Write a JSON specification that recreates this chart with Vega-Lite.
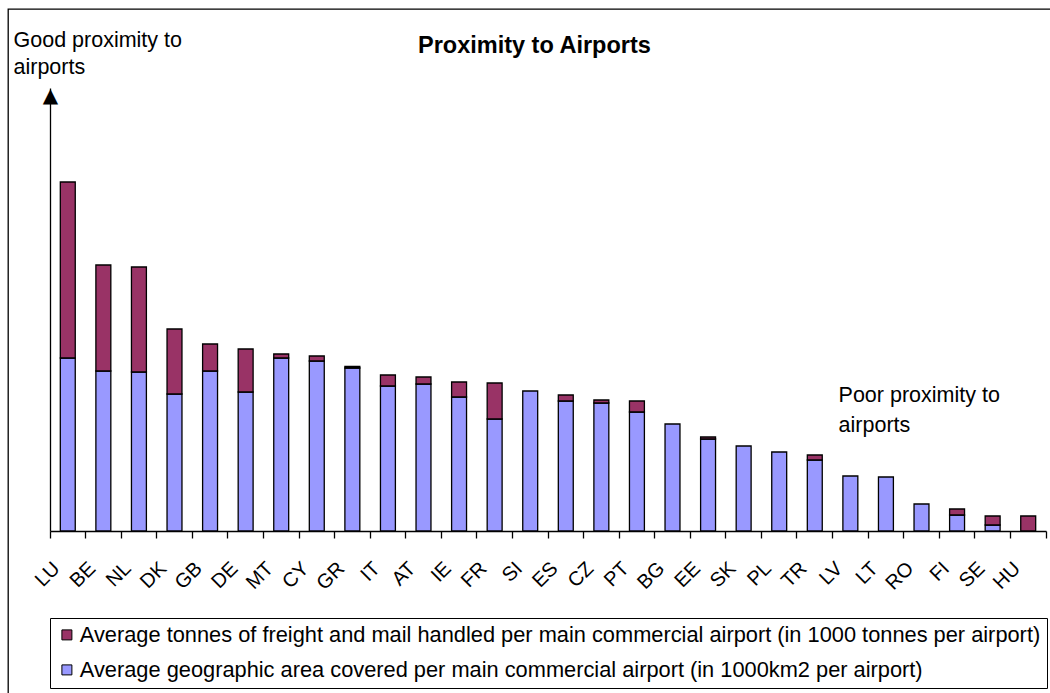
{
  "$schema": "https://vega.github.io/schema/vega-lite/v6.json",
  "width": 1046,
  "height": 688,
  "autosize": {"type": "none"},
  "padding": {"left": 8, "top": 9, "right": 0, "bottom": 0},
  "background": "white",
  "config": {
    "font": "Liberation Sans",
    "view": {"stroke": "black", "strokeWidth": 1.3},
    "axis": {"grid": false}
  },
  "title": {
    "text": "Proximity to Airports",
    "font": "Liberation Sans",
    "fontSize": 23.5,
    "fontWeight": "bold",
    "color": "black",
    "anchor": "start",
    "frame": "group",
    "offset": 0,
    "dx": 410,
    "dy": 67,
    "baseline": "alphabetic"
  },
  "layer": [
    {
      "data": {
        "values": [
          {"country": "LU", "series": "Average geographic area covered per main commercial airport (in 1000km2 per airport)", "value": 173},
          {"country": "LU", "series": "Average tonnes of freight and mail handled per main commercial airport (in 1000 tonnes per airport)", "value": 176},
          {"country": "BE", "series": "Average geographic area covered per main commercial airport (in 1000km2 per airport)", "value": 160},
          {"country": "BE", "series": "Average tonnes of freight and mail handled per main commercial airport (in 1000 tonnes per airport)", "value": 106},
          {"country": "NL", "series": "Average geographic area covered per main commercial airport (in 1000km2 per airport)", "value": 159},
          {"country": "NL", "series": "Average tonnes of freight and mail handled per main commercial airport (in 1000 tonnes per airport)", "value": 105},
          {"country": "DK", "series": "Average geographic area covered per main commercial airport (in 1000km2 per airport)", "value": 137},
          {"country": "DK", "series": "Average tonnes of freight and mail handled per main commercial airport (in 1000 tonnes per airport)", "value": 65},
          {"country": "GB", "series": "Average geographic area covered per main commercial airport (in 1000km2 per airport)", "value": 160},
          {"country": "GB", "series": "Average tonnes of freight and mail handled per main commercial airport (in 1000 tonnes per airport)", "value": 27},
          {"country": "DE", "series": "Average geographic area covered per main commercial airport (in 1000km2 per airport)", "value": 139},
          {"country": "DE", "series": "Average tonnes of freight and mail handled per main commercial airport (in 1000 tonnes per airport)", "value": 43},
          {"country": "MT", "series": "Average geographic area covered per main commercial airport (in 1000km2 per airport)", "value": 173},
          {"country": "MT", "series": "Average tonnes of freight and mail handled per main commercial airport (in 1000 tonnes per airport)", "value": 4},
          {"country": "CY", "series": "Average geographic area covered per main commercial airport (in 1000km2 per airport)", "value": 170},
          {"country": "CY", "series": "Average tonnes of freight and mail handled per main commercial airport (in 1000 tonnes per airport)", "value": 5},
          {"country": "GR", "series": "Average geographic area covered per main commercial airport (in 1000km2 per airport)", "value": 163},
          {"country": "GR", "series": "Average tonnes of freight and mail handled per main commercial airport (in 1000 tonnes per airport)", "value": 1.5},
          {"country": "IT", "series": "Average geographic area covered per main commercial airport (in 1000km2 per airport)", "value": 145},
          {"country": "IT", "series": "Average tonnes of freight and mail handled per main commercial airport (in 1000 tonnes per airport)", "value": 11},
          {"country": "AT", "series": "Average geographic area covered per main commercial airport (in 1000km2 per airport)", "value": 147},
          {"country": "AT", "series": "Average tonnes of freight and mail handled per main commercial airport (in 1000 tonnes per airport)", "value": 7},
          {"country": "IE", "series": "Average geographic area covered per main commercial airport (in 1000km2 per airport)", "value": 134},
          {"country": "IE", "series": "Average tonnes of freight and mail handled per main commercial airport (in 1000 tonnes per airport)", "value": 15},
          {"country": "FR", "series": "Average geographic area covered per main commercial airport (in 1000km2 per airport)", "value": 112},
          {"country": "FR", "series": "Average tonnes of freight and mail handled per main commercial airport (in 1000 tonnes per airport)", "value": 36},
          {"country": "SI", "series": "Average geographic area covered per main commercial airport (in 1000km2 per airport)", "value": 140},
          {"country": "ES", "series": "Average geographic area covered per main commercial airport (in 1000km2 per airport)", "value": 130},
          {"country": "ES", "series": "Average tonnes of freight and mail handled per main commercial airport (in 1000 tonnes per airport)", "value": 6},
          {"country": "CZ", "series": "Average geographic area covered per main commercial airport (in 1000km2 per airport)", "value": 128},
          {"country": "CZ", "series": "Average tonnes of freight and mail handled per main commercial airport (in 1000 tonnes per airport)", "value": 3},
          {"country": "PT", "series": "Average geographic area covered per main commercial airport (in 1000km2 per airport)", "value": 119},
          {"country": "PT", "series": "Average tonnes of freight and mail handled per main commercial airport (in 1000 tonnes per airport)", "value": 11},
          {"country": "BG", "series": "Average geographic area covered per main commercial airport (in 1000km2 per airport)", "value": 107},
          {"country": "EE", "series": "Average geographic area covered per main commercial airport (in 1000km2 per airport)", "value": 92},
          {"country": "EE", "series": "Average tonnes of freight and mail handled per main commercial airport (in 1000 tonnes per airport)", "value": 2},
          {"country": "SK", "series": "Average geographic area covered per main commercial airport (in 1000km2 per airport)", "value": 85},
          {"country": "PL", "series": "Average geographic area covered per main commercial airport (in 1000km2 per airport)", "value": 79},
          {"country": "TR", "series": "Average geographic area covered per main commercial airport (in 1000km2 per airport)", "value": 71},
          {"country": "TR", "series": "Average tonnes of freight and mail handled per main commercial airport (in 1000 tonnes per airport)", "value": 5},
          {"country": "LV", "series": "Average geographic area covered per main commercial airport (in 1000km2 per airport)", "value": 55},
          {"country": "LT", "series": "Average geographic area covered per main commercial airport (in 1000km2 per airport)", "value": 54},
          {"country": "RO", "series": "Average geographic area covered per main commercial airport (in 1000km2 per airport)", "value": 27},
          {"country": "FI", "series": "Average geographic area covered per main commercial airport (in 1000km2 per airport)", "value": 16},
          {"country": "FI", "series": "Average tonnes of freight and mail handled per main commercial airport (in 1000 tonnes per airport)", "value": 6},
          {"country": "SE", "series": "Average geographic area covered per main commercial airport (in 1000km2 per airport)", "value": 6},
          {"country": "SE", "series": "Average tonnes of freight and mail handled per main commercial airport (in 1000 tonnes per airport)", "value": 9},
          {"country": "HU", "series": "Average tonnes of freight and mail handled per main commercial airport (in 1000 tonnes per airport)", "value": 15}
        ]
      },
      "mark": {"type": "bar", "width": {"band": 0.42}, "stroke": "black", "strokeWidth": 1.3},
      "encoding": {
        "x": {
          "field": "country",
          "type": "nominal",
          "scale": {
            "domain": ["LU", "BE", "NL", "DK", "GB", "DE", "MT", "CY", "GR", "IT", "AT", "IE", "FR", "SI", "ES", "CZ", "PT", "BG", "EE", "SK", "PL", "TR", "LV", "LT", "RO", "FI", "SE", "HU"],
            "range": [42, 1038],
            "paddingInner": 0,
            "paddingOuter": 0
          },
          "axis": {
            "title": null,
            "offset": -166,
            "bandPosition": 1,
            "tickExtra": true,
            "tickSize": 7,
            "tickColor": "black",
            "tickWidth": 1.3,
            "domainColor": "black",
            "domainWidth": 1.3,
            "labelAngle": -45,
            "labelAlign": "right",
            "labelBaseline": "middle",
            "labelFont": "Liberation Sans",
            "labelFontSize": 20,
            "labelColor": "black",
            "labelOffset": -11,
            "labelPadding": 27,
            "labelOverlap": false,
            "labelBound": false
          }
        },
        "y": {
          "field": "value",
          "type": "quantitative",
          "stack": "zero",
          "scale": {"domain": [0, 443], "range": [522, 79], "nice": false},
          "axis": {
            "title": ["Good proximity to", "airports"],
            "titleAngle": 0,
            "titleAlign": "left",
            "titleBaseline": "alphabetic",
            "titleX": -37,
            "titleY": 37,
            "titleFont": "Liberation Sans",
            "titleFontSize": 21.5,
            "titleFontWeight": "normal",
            "titleLineHeight": 27,
            "titleColor": "black",
            "offset": -42,
            "domainColor": "black",
            "domainWidth": 1.3,
            "ticks": false,
            "tickSize": 0,
            "values": [436],
            "labelExpr": "'▲'",
            "labelFont": "DejaVu Sans",
            "labelFontSize": 20,
            "labelAlign": "center",
            "labelBaseline": "middle",
            "labelPadding": 0,
            "labelColor": "black"
          }
        },
        "color": {
          "field": "series",
          "type": "nominal",
          "scale": {
            "domain": [
              "Average tonnes of freight and mail handled per main commercial airport (in 1000 tonnes per airport)",
              "Average geographic area covered per main commercial airport (in 1000km2 per airport)"
            ],
            "range": ["#993366", "#9999FF"]
          },
          "legend": {
            "orient": "none",
            "legendX": 42,
            "legendY": 609,
            "title": null,
            "strokeColor": "black",
            "padding": 6,
            "cornerRadius": 0,
            "fillColor": "white",
            "symbolType": "square",
            "symbolSize": 100,
            "symbolStrokeColor": "black",
            "symbolStrokeWidth": 1,
            "symbolOpacity": 1,
            "labelFont": "Liberation Sans",
            "labelFontSize": 21.8,
            "labelColor": "black",
            "labelLimit": 0,
            "labelOffset": 2,
            "rowPadding": 12
          }
        },
        "order": {"field": "series", "sort": "ascending"}
      }
    },
    {
      "data": {"values": [{"note": "poor"}]},
      "mark": {
        "type": "text",
        "align": "left",
        "baseline": "alphabetic",
        "font": "Liberation Sans",
        "fontSize": 21.5,
        "lineHeight": 30,
        "color": "black",
        "dx": 6
      },
      "encoding": {
        "x": {"datum": "LV", "bandPosition": 0},
        "y": {"datum": 129.3},
        "text": {"value": ["Poor proximity to", "airports"]}
      }
    }
  ]
}
